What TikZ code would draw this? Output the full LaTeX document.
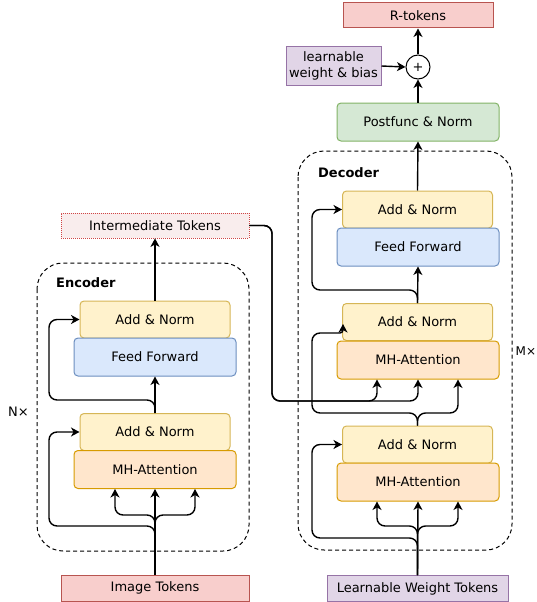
\documentclass[tikz,border=0pt]{standalone}
\usepackage{fontspec}
\setmainfont{DejaVu Sans}
\usetikzlibrary{arrows.meta,calc}
\definecolor{anF}{HTML}{FFF2CC}\definecolor{anD}{HTML}{D6B656}
\definecolor{ffF}{HTML}{DAE8FC}\definecolor{ffD}{HTML}{6C8EBF}
\definecolor{mhF}{HTML}{FFE6CC}\definecolor{mhD}{HTML}{D79B00}
\definecolor{rdF}{HTML}{F8CECC}\definecolor{rdD}{HTML}{B85450}
\definecolor{puF}{HTML}{E1D5E7}\definecolor{puD}{HTML}{9673A6}
\definecolor{grF}{HTML}{D5E8D4}\definecolor{grD}{HTML}{82B366}
\definecolor{itF}{HTML}{F9EDED}\definecolor{itD}{HTML}{D04545}
\tikzset{
  base/.style={draw, line width=1pt, inner sep=0pt, anchor=center, align=center,
    font=\fontsize{13}{15}\selectfont},
  blk/.style={base, rounded corners=4pt},
  addnorm/.style={blk, fill=anF, draw=anD, minimum width=150pt, minimum height=37pt},
  ffwd/.style={blk, fill=ffF, draw=ffD, minimum width=162pt, minimum height=38pt},
  mhatt/.style={blk, fill=mhF, draw=mhD, minimum width=162pt, minimum height=38pt},
  redbox/.style={base, fill=rdF, draw=rdD},
  purbox/.style={base, fill=puF, draw=puD},
  arr/.style={line width=1.4pt, -{Stealth[length=8.5pt,width=9pt,inset=2.5pt]}},
  rc/.style={rounded corners=8pt},
  container/.style={draw, line width=1pt, dash pattern=on 4pt off 3pt, rounded corners=26pt},
  title/.style={font=\fontsize{13}{15}\selectfont\bfseries, anchor=west, inner sep=0pt},
  rep/.style={font=\fontsize{13}{15}\selectfont, anchor=west, inner sep=0pt},
}
\begin{document}
\begin{tikzpicture}[x=1pt,y=-1pt]
\useasboundingbox (0,0) rectangle (537,602);
% containers
\draw[container] (37,263) rectangle (249,551);
\draw[container] (298,151) rectangle (512,550);
\node[title] (enct) at (56,283) {Encoder};
\node[title] (dect) at (318,173) {Decoder};
\node[rep] (nx) at (8,412) {N×};
\node[rep, font=\fontsize{12}{14}\selectfont] (mx) at (515.5,351) {M×};
% encoder
\node[addnorm] (encAN2) at (155,319.5) {Add \& Norm};
\node[ffwd]    (encFF)  at (155,357) {Feed Forward};
\node[addnorm] (encAN1) at (155,432) {Add \& Norm};
\node[mhatt]   (encMH)  at (155,469.5) {MH-Attention};
\node[redbox, minimum width=188pt, minimum height=26pt] (img) at (155,588) {Image Tokens};
\node[base, fill=itF, draw=itD, line width=0.8pt, dash pattern=on 1pt off 1pt,
      minimum width=188pt, minimum height=25pt] (inter) at (155,225.5) {Intermediate Tokens};
% decoder
\node[addnorm] (decAN3) at (417.5,209.5) {Add \& Norm};
\node[ffwd]    (decFF)  at (418,247) {Feed Forward};
\node[addnorm] (decAN2) at (417.5,322) {Add \& Norm};
\node[mhatt]   (decMH2) at (418,360) {MH-Attention};
\node[addnorm] (decAN1) at (417.5,444.5) {Add \& Norm};
\node[mhatt]   (decMH1) at (418,482) {MH-Attention};
\node[purbox, minimum width=181pt, minimum height=26pt] (lwt) at (417.5,588.5) {Learnable Weight Tokens};
\node[blk, fill=grF, draw=grD, minimum width=162pt, minimum height=38pt] (post) at (418,122) {Postfunc \& Norm};
\node[draw, circle, line width=1pt, minimum size=24pt, inner sep=0pt,
      font=\fontsize{13}{15}\selectfont] (plus) at (418,67) {+};
\node[purbox, minimum width=95pt, minimum height=38pt,
      font=\fontsize{13}{16}\selectfont] (lwb) at (333.5,66) {learnable\\weight \& bias};
\node[redbox, minimum width=150pt, minimum height=25pt] (rtok) at (418,15.5) {R-tokens};
% encoder connectors
\draw[arr] (img.north) -- (encMH.south);
\draw[arr, rc] (img.north) |- (115,515) -- ([xshift=-40pt]encMH.south);
\draw[arr, rc] (img.north) |- (195,515) -- ([xshift=40pt]encMH.south);
\draw[arr, rc] (img.north) |- (49,526) |- (encAN1.west);
\draw[arr] (encAN1.north) -- (encFF.south);
\draw[arr, rc] (encAN1.north) |- (49,400) |- (encAN2.west);
\draw[arr] (encAN2.north) -- (inter.south);
% decoder connectors
\draw[arr] (lwt.north) -- (decMH1.south);
\draw[arr, rc] (lwt.north) |- (377,526) -- ([xshift=-41pt]decMH1.south);
\draw[arr, rc] (lwt.north) |- (458,526) -- ([xshift=40pt]decMH1.south);
\draw[arr, rc] (lwt.north) |- (312,538) |- (decAN1.west);
\draw[arr, rc] (decAN1.north) |- (312,413) -- (312,333) [rounded corners=3pt] -- (343,333) -- (343,324);
\draw[arr, rc] (decAN1.north) |- (458,413) -- ([xshift=40pt]decMH2.south);
\draw[arr, rc] (inter.east) -| (272,401) -| ([xshift=-41pt]decMH2.south);
\draw[arr, rc] (inter.east) -| (272,401) -| (decMH2.south);
\draw[arr] (decAN2.north) -- (decFF.south);
\draw[arr, rc] (decAN2.north) |- (312,290) |- (decAN3.west);
\draw[arr] (decAN3.north) -- (post.south);
\draw[arr] (post.north) -- (plus.south);
\draw[arr] (lwb.east) -- (plus.west);
\draw[arr] (plus.north) -- (rtok.south);
\end{tikzpicture}
\end{document}
